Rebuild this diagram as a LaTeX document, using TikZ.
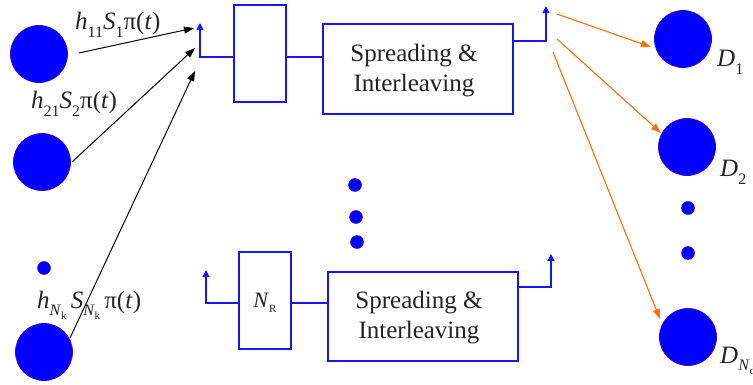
\documentclass[tikz,border=0pt]{standalone}
\usepackage{fontspec}
\setmainfont{Liberation Serif}
\usetikzlibrary{arrows.meta}
\definecolor{dotfill}{RGB}{0,0,255}
\definecolor{dotline}{RGB}{60,0,200}
\definecolor{wire}{RGB}{20,20,255}
\definecolor{ray}{RGB}{255,110,10}
\definecolor{ink}{RGB}{35,35,35}
\newcommand{\lowsub}[1]{\raisebox{-0.3em}{\fontsize{16}{16}\selectfont #1}}
\newcommand{\tinysub}[1]{\raisebox{-0.25em}{\fontsize{11}{11}\selectfont #1}}
\tikzset{
  x=1pt, y=-1pt,
  bigdot/.style={circle, fill=dotfill, draw=dotline, line width=0.8pt, minimum size=57pt, inner sep=0pt},
  smalldot/.style={circle, fill=dotfill, draw=dotline, line width=0.5pt, minimum size=13pt, inner sep=0pt},
  blk/.style={draw=wire, line width=1.3pt, inner sep=0pt},
  wireline/.style={wire, line width=1.3pt},
  antenna/.style={wire, line width=1.3pt, -{Triangle[length=7pt,width=7pt]}},
  feed/.style={black, line width=1pt, -{Triangle[length=10pt,width=7pt]}},
  beam/.style={ray, line width=1.1pt, -{Triangle[length=10pt,width=7pt]}},
  lbl/.style={font=\fontsize{25}{27}\selectfont, inner sep=0pt, text=ink},
  btext/.style={font=\fontsize{25}{30}\selectfont, align=center, inner sep=0pt, text=ink}
}
\begin{document}
\begin{tikzpicture}
\useasboundingbox (0,0) rectangle (753,385);
% sources
\node[bigdot] (s1) at (39,54) {};
\node[bigdot] (s2) at (42,162) {};
\node[smalldot] (sd) at (44,268) {};
\node[bigdot] (s3) at (44,352) {};
% labels
\node[lbl, anchor=base west] (l1) at (75,30) {\textit{h}\lowsub{11}\textit{S}\lowsub{1}π(\textit{t})};
\node[lbl, anchor=base west] (l2) at (31,109) {\textit{h}\lowsub{21}\textit{S}\lowsub{2}π(\textit{t})};
\node[lbl, anchor=base west] (l3) at (37,308) {\textit{h}\lowsub{\textit{N}\tinysub{k}}\,\textit{S}\lowsub{\textit{N}\tinysub{k}}\,π(\textit{t})};
% feed arrows
\coordinate (f1s) at (79,53);
\coordinate (f1e) at (194,28);
\coordinate (f2s) at (72,162);
\coordinate (f2e) at (195,48);
\coordinate (f3s) at (70,338);
\coordinate (f3e) at (195,71);
\draw[feed] (f1s) -- (f1e);
\draw[feed] (f2s) -- (f2e);
\draw[feed] (f3s) -- (f3e);
% upper chain
\coordinate (a1b) at (200,57);
\coordinate (a1t) at (200,23);
\node[blk, minimum width=52pt, minimum height=97pt] (b1) at (260,53.5) {};
\node[blk, minimum width=190pt, minimum height=90pt] (b2) at (418,69) {};
\node[btext] (t2) at (414,71) {Spreading \&\\Interleaving};
\draw[antenna] (b1.west |- a1b) -- (a1b) -- (a1t);
\draw[wireline] (b1.east |- a1b) -- (b2.west |- a1b);
\coordinate (a2b) at (546,41);
\coordinate (a2t) at (546,6);
\draw[antenna] (b2.east |- a2b) -- (a2b) -- (a2t);
% destinations
\node[bigdot] (d1) at (683,39) {};
\node[bigdot] (d2) at (687,147) {};
\node[smalldot] (dd1) at (688,208) {};
\node[smalldot] (dd2) at (688,253) {};
\node[bigdot] (d3) at (688,337) {};
\node[lbl, anchor=base west] (dl1) at (717,67) {\textit{D}\lowsub{1}};
\node[lbl, anchor=base west] (dl2) at (720,177) {\textit{D}\lowsub{2}};
\node[lbl, anchor=base west] (dl3) at (720,363) {\textit{D}\lowsub{\textit{N}\tinysub{d}}};
% beams
\coordinate (r1s) at (557,14);
\coordinate (r2s) at (557,39);
\coordinate (r3s) at (553,52);
\coordinate (r1e) at (651,47);
\coordinate (r2e) at (661,133);
\coordinate (r3e) at (660,319);
\draw[beam] (r1s) -- (r1e);
\draw[beam] (r2s) -- (r2e);
\draw[beam] (r3s) -- (r3e);
% middle dots
\node[smalldot] (m1) at (355,185) {};
\node[smalldot] (m2) at (356,217) {};
\node[smalldot] (m3) at (357,242) {};
% lower chain
\node[blk, minimum width=52pt, minimum height=97pt] (c1) at (265,300.5) {};
\node[lbl, font=\fontsize{22}{24}\selectfont] (nr) at (265,303) {\textit{N}\tinysub{R}};
\node[blk, minimum width=190pt, minimum height=89pt] (c2) at (423,316.5) {};
\node[btext] (t3) at (419,318) {Spreading \&\\Interleaving};
\coordinate (a3b) at (206,303);
\coordinate (a3t) at (206,270);
\draw[antenna] (c1.west |- a3b) -- (a3b) -- (a3t);
\draw[wireline] (c1.east |- a3b) -- (c2.west |- a3b);
\coordinate (a4b) at (551,287);
\coordinate (a4t) at (551,254);
\draw[antenna] (c2.east |- a4b) -- (a4b) -- (a4t);
\end{tikzpicture}
\end{document}
